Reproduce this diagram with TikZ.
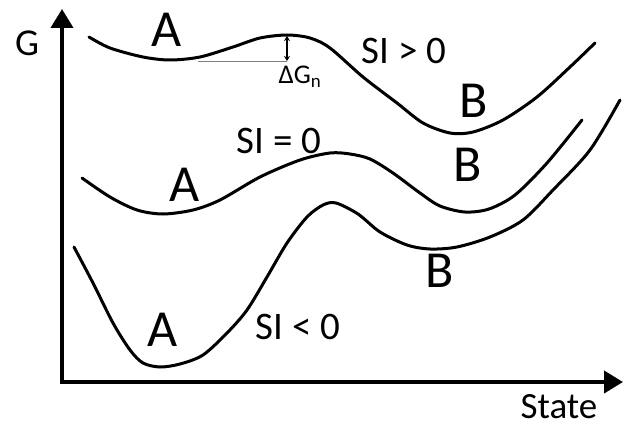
\documentclass[tikz,border=0pt]{standalone}
\usepackage{fontspec}
\setmainfont{Carlito}
\usetikzlibrary{arrows.meta}

\begin{document}
\begin{tikzpicture}[
    x=1pt, y=-1pt,
    axis/.style={line width=4pt, -{Triangle[length=19pt,width=22pt]}},
    curve/.style={line width=3pt, line join=round, line cap=round},
    big/.style={font=\fontsize{52}{52}\selectfont, inner sep=0pt},
    lab/.style={font=\fontsize{39}{39}\selectfont, inner sep=0pt},
  ]
    \useasboundingbox (0,0) rectangle (624,428);

    % axes
    \coordinate (O) at (62,382);
    \coordinate (Gtop) at (62,9);
    \coordinate (Send) at (623,382);
    \draw[axis] (O) -- (Gtop);
    \draw[axis] ([xshift=-2pt]O) -- (Send);
    \node[lab, font=\fontsize{38}{38}\selectfont] (G) at (27,43) {G};
    \node[lab, font=\fontsize{37}{37}\selectfont] (state) at (559,407) {State};

    % SI > 0
    \draw[curve] plot[smooth] coordinates {(89,37) (110,48) (143,57) (170,60) (200,57)
      (233,47) (260,38) (287,35) (310,38) (330,48) (363,77) (397,103) (423,123) (450,133)
      (473,132) (503,120) (537,97) (570,67) (595,43)};
    % SI = 0
    \draw[curve] plot[smooth] coordinates {(82,178) (110,197) (137,210) (163,214) (193,210)
      (220,200) (260,177) (300,160) (330,153) (350,154) (370,159) (393,173) (420,193)
      (440,206) (465,212) (489,209) (515,195) (547,163) (582,120)};
    % SI < 0
    \draw[curve] plot[smooth] coordinates {(74,247) (93,283) (113,323) (130,350) (143,363)
      (160,367) (180,364) (203,355) (227,333) (247,310) (267,277) (287,243) (307,217)
      (323,205) (336,203) (358,214) (380,232) (407,245) (430,249) (457,247) (490,237)
      (523,220) (553,190) (590,150) (620,100)};

    % barrier height
    \coordinate (top) at (287,36);
    \coordinate (base) at (287,61);
    \coordinate (left) at (198,61);
    \draw[gray, line width=0.8pt] (left) -- (base);
    \draw[line width=1.3pt, {Stealth[length=5pt,width=6pt]}-{Stealth[length=5pt,width=6pt]}] (top) -- (base);
    \node[font=\fontsize{27}{27}\selectfont, inner sep=0pt] (dG) at (300,77) {ΔG\textsubscript{n}};

    % labels
    \node[big] (A1) at (167,30) {A};
    \node[lab] (si1) at (404,51) {SI > 0};
    \node[big] (B1) at (474,101) {B};
    \node[lab] (si2) at (279,141) {SI = 0};
    \node[big] (A2) at (185,185) {A};
    \node[big] (B2) at (468,165) {B};
    \node[big] (B3) at (440,271) {B};
    \node[big] (A3) at (163,330) {A};
    \node[lab] (si3) at (298,327) {SI < 0};
\end{tikzpicture}
\end{document}
